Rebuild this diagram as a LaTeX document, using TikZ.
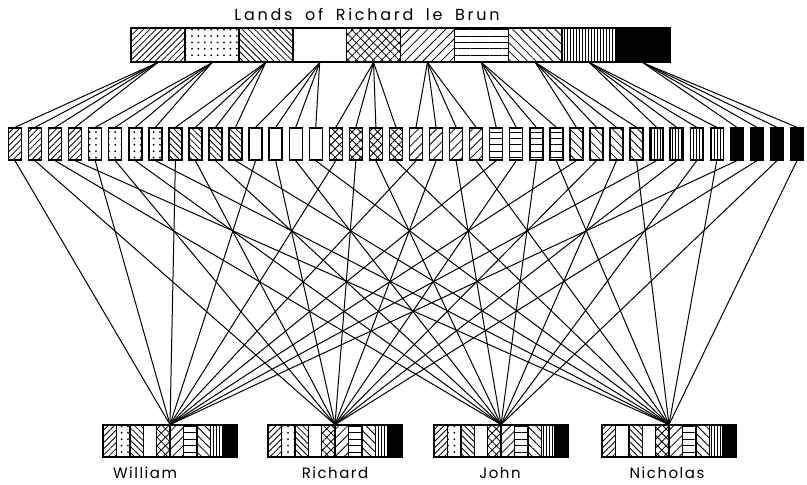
\documentclass[tikz,border=0pt]{standalone}
\usepackage{fontspec}
\newfontfamily\plotter[LetterSpace=17,WordSpace=1.8]{Poppins}
\newfontfamily\plotnom[LetterSpace=10]{Poppins}
\usepackage{tikz}
\usetikzlibrary{patterns.meta}
\tikzset{
  pat1/.style={pattern={Lines[angle=45,distance=2.2pt,line width=0.4pt]}},
  pat2/.style={pattern={Dots[distance=3.2pt,radius=0.5pt]}},
  pat3/.style={pattern={Lines[angle=-45,distance=2.2pt,line width=0.4pt]}},
  pat4/.style={},
  pat5/.style={pattern={Hatch[angle=45,distance=3pt,line width=0.4pt]}},
  pat6/.style={pattern={Lines[angle=45,distance=3.2pt,line width=0.4pt]}},
  pat7/.style={pattern={Lines[angle=0,distance=3.2pt,line width=0.4pt]}},
  pat8/.style={pattern={Lines[angle=-45,distance=3pt,line width=0.4pt]}},
  pat9/.style={pattern={Lines[angle=90,distance=1.5pt,line width=0.4pt]}},
  pat10/.style={fill=black},
  lote/.style={draw, line width=0.8pt, inner sep=0pt, minimum width=26.95pt, minimum height=17pt},
  parcela/.style={draw, line width=0.7pt, inner sep=0pt, minimum width=6.5pt, minimum height=16pt},
  cuota/.style={draw, line width=0.7pt, inner sep=0pt, minimum width=6.7pt, minimum height=16pt},
  barra/.style={inner sep=0pt, minimum width=67pt, minimum height=16pt},
  enlace/.style={line width=0.5pt},
  etq/.style={font=\plotter\fontsize{8}{9}\selectfont},
  etqn/.style={font=\plotnom\fontsize{7.5}{9}\selectfont},
}
\begin{document}
\begin{tikzpicture}[x=0.5pt, y=-0.5pt]
  \useasboundingbox (0,0) rectangle (807,484);
  \node[etq] (titulo) at (367,14) {Lands of Richard le Brun};
  % tierras de Richard le Brun
  \foreach \i in {1,...,10}
    \node[lote, pat\i] (t\i) at ({131+53.9*(\i-0.5)},45) {};
  % parcelas: cuatro por tierra
  \foreach \i in {1,...,10}
    \foreach \j in {1,...,4}{
      \pgfmathtruncatemacro{\k}{4*(\i-1)+\j}
      \node[parcela, pat\i] (p\k) at ({15+20.05*(\k-1)},144) {};
    }
  % herederos
  \foreach \j/\cx/\lx/\nom in {1/170/145/William, 2/335/335/Richard, 3/501/500/John, 4/669/667/Nicholas}{
    \node[barra] (h\j) at (\cx,441) {};
    \foreach \i in {1,...,10}{
      \pgfmathtruncatemacro{\q}{(\j==4 && \i==2) ? 4 : \i}
      \node[cuota, pat\q] (h\j-\i) at ({\cx-67+13.4*(\i-0.5)},441) {};
    }
    \node[etqn] (n\j) at (\lx,473) {\nom};
  }
  % enlaces
  \foreach \i in {1,...,10}
    \foreach \j in {1,...,4}{
      \pgfmathtruncatemacro{\k}{4*(\i-1)+\j}
      \draw[enlace] (t\i.south) -- (p\k.north);
      \draw[enlace] (p\k.south) -- (h\j.north);
    }
\end{tikzpicture}
\end{document}
